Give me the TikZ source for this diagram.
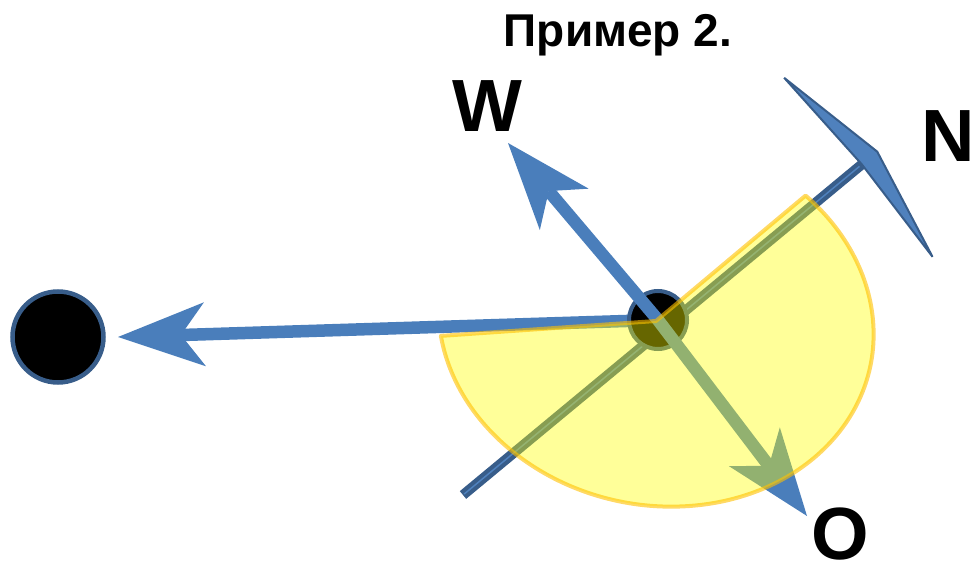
\documentclass[tikz,border=0pt]{standalone}
\usepackage{fontspec}
\setmainfont{Liberation Sans}
\usetikzlibrary{arrows.meta}
\definecolor{modra}{HTML}{4A7EBB}
\definecolor{tmava}{HTML}{385D8A}
\definecolor{vypln}{HTML}{4F81BD}
\definecolor{zluta}{HTML}{FFFF00}
\definecolor{okraj}{HTML}{FFC000}

\begin{document}
\begin{tikzpicture}[x=1pt, y=-1pt,
        vektor/.style={modra, line width=12.5pt, -{Stealth[length=87pt, width=64pt, inset=24pt, line width=0pt]}},
        tecka/.style={circle, draw=tmava, fill=black, inner sep=0pt},
        popis/.style={anchor=base, inner sep=0pt, font=\fontsize{74}{74}\selectfont\bfseries}]
        \useasboundingbox (0,0) rectangle (976,569);

        \node[anchor=base, inner sep=0pt, font=\fontsize{46}{46}\selectfont\bfseries] (T) at (618,47) {Пример 2.};

        % body
        \coordinate (S) at (658,320);
        \coordinate (L) at (118,337);
        \coordinate (W) at (508,143);
        \coordinate (O) at (807,516);
        \coordinate (N1) at (463,495);
        \coordinate (N2) at (878,151);

        \node[tecka, line width=4.5pt, minimum size=91pt] (K) at (58,337) {};
        \draw[vektor] (S) -- (L);

        % přímka N
        \draw[tmava, line width=10pt, -{Stealth[length=27pt, width=256pt, inset=5pt, line width=2pt, fill=vypln]}] (N1) -- (N2);
        \draw[vypln, line width=1.5pt, shorten <=1.5pt, shorten >=24pt] (N1) -- (N2);

        \node[tecka, line width=4pt, minimum size=58pt] (H) at (S) {};
        \draw[vektor] (S) -- (W);
        \draw[vektor] (S) -- (O);

        % výseč
        \begin{scope}[shift={(656,321)}, rotate=-12]
            \draw[fill=zluta, fill opacity=0.4, draw=okraj, draw opacity=0.6, line width=4pt, line join=round]
            (0,0) -- (161.2:219 and 184) arc[start angle=161.2, end angle=-56.7, x radius=219, y radius=184] -- cycle;
        \end{scope}

        % popisky
        \node[popis] (lW) at (487,132) {W};
        \node[popis, anchor=base west] (lN) at (921,162) {N};
        \node[popis] (lO) at (840,559) {O};

    \end{tikzpicture}
\end{document}
